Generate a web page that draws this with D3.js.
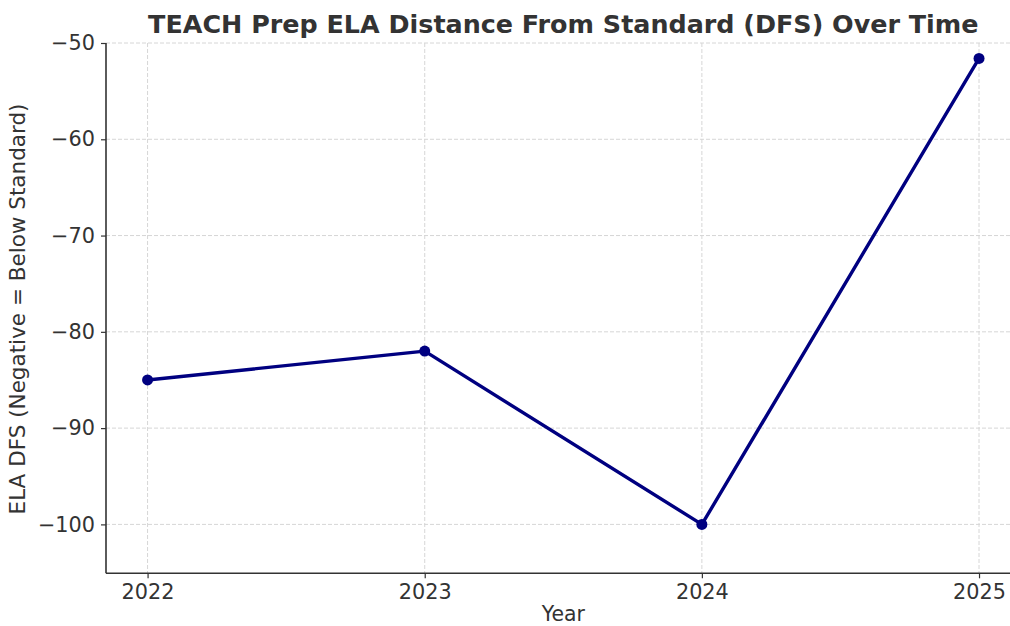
<!DOCTYPE html>
<html>
<head>
<meta charset="utf-8">
<script src="https://cdn.jsdelivr.net/npm/d3@7"></script>
<style>
  body { margin: 0; background: #fff; }
  text { font-family: "DejaVu Sans", sans-serif; fill: #333; }
</style>
</head>
<body>
<div id="chart-container"></div>
<script>
const years = [2022, 2023, 2024, 2025];
const dfsValues = [-85, -82, -100, -51.6];
const yTicks = [-50, -60, -70, -80, -90, -100];

const width = 1010, height = 626;
const plotLeft = 106, plotRight = 1020.6, plotTop = 43, plotBottom = 573.3;

const svg = d3.select("#chart-container")
    .append("svg")
    .attr("width", width)
    .attr("height", height);

const x = d3.scaleLinear()
    .domain([2021.85, 2025.15])
    .range([plotLeft, plotRight]);
const y = d3.scaleLinear()
    .domain([-105.08, -50])
    .range([plotBottom, plotTop]);

// grid
const grid = svg.append('g');
grid.selectAll('line.h')
    .data(yTicks)
    .enter()
    .append('line')
    .attr('x1', plotLeft).attr('x2', plotRight)
    .attr('y1', d => y(d)).attr('y2', d => y(d))
    .attr('stroke', '#d6d6d6').attr('stroke-width', 1)
    .attr('stroke-dasharray', '4,2');
grid.selectAll('line.v')
    .data(years)
    .enter()
    .append('line')
    .attr('x1', d => x(d)).attr('x2', d => x(d))
    .attr('y1', plotTop).attr('y2', plotBottom)
    .attr('stroke', '#d6d6d6').attr('stroke-width', 1)
    .attr('stroke-dasharray', '4,2');

// axes
const yAxis = svg.append('g')
    .attr('transform', `translate(${plotLeft},0)`)
    .call(d3.axisLeft(y).tickValues(yTicks).tickSize(5).tickPadding(6)
        .tickFormat(d => d3.format("d")(d).replace('-', '\u2212')));
const xAxis = svg.append('g')
    .attr('transform', `translate(0,${plotBottom})`)
    .call(d3.axisBottom(x).tickValues(years).tickSize(5).tickPadding(6)
        .tickFormat(d3.format("d")));

[yAxis, xAxis].forEach(a => {
    a.select('.domain').attr('stroke', '#333').attr('stroke-width', 1.6);
    a.selectAll('.tick line').attr('stroke', '#333').attr('stroke-width', 1.2);
    a.selectAll('.tick text').style('font-size', '20.8px').attr('fill', '#333');
});
yAxis.select('.domain').attr('d', `M0,${plotBottom}V${plotTop}`);
xAxis.select('.domain').attr('d', `M${plotLeft},0H${plotRight}`);

// line
const pts = years.map((yr, i) => ({ yr, v: dfsValues[i] }));
svg.append('path')
    .datum(pts)
    .attr('fill', 'none')
    .attr('stroke', '#000080')
    .attr('stroke-width', 3.4)
    .attr('stroke-linejoin', 'round')
    .attr('d', d3.line().x(d => x(d.yr)).y(d => y(d.v)));
svg.selectAll('circle')
    .data(pts)
    .enter()
    .append('circle')
    .attr('cx', d => x(d.yr))
    .attr('cy', d => y(d.v))
    .attr('r', 5.5)
    .attr('fill', '#000080');

// labels
svg.append('text')
    .attr('x', (plotLeft + plotRight) / 2)
    .attr('y', 33)
    .attr('text-anchor', 'middle')
    .style('font-size', '25.4px')
    .style('font-weight', 'bold')
    .text('TEACH Prep ELA Distance From Standard (DFS) Over Time');
svg.append('text')
    .attr('x', (plotLeft + plotRight) / 2)
    .attr('y', 621)
    .attr('text-anchor', 'middle')
    .style('font-size', '20.4px')
    .text('Year');
svg.append('text')
    .attr('transform', `translate(25,309) rotate(-90)`)
    .attr('text-anchor', 'middle')
    .style('font-size', '21.5px')
    .text('ELA DFS (Negative = Below Standard)');
</script>
</body>
</html>
